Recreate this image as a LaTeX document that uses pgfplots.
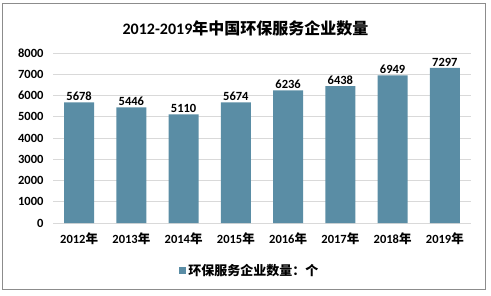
\documentclass[border=0pt]{standalone}
\usepackage{fontspec}
\setmainfont{Carlito}
\newfontfamily\cjk{Noto Sans CJK SC}
\usepackage{pgfplots}
\pgfplotsset{compat=1.18}
\definecolor{barcol}{HTML}{5A8DA5}
\definecolor{gridc}{HTML}{D9D9D9}
\definecolor{framec}{HTML}{8C8C8C}
\newcommand\nian{{\cjk 年}}
\begin{document}
\begin{tikzpicture}[x=1bp,y=1bp]
\useasboundingbox (0,0) rectangle (491,295);
\draw[framec, line width=0.8bp] (2,6) rectangle (485,292);
\node[font=\fontsize{16bp}{19bp}\selectfont\bfseries] at (245.5,267) {2012-2019\cjk 年中国环保服务企业数量};
\begin{axis}[
  at={(53bp,72bp)}, anchor=south west,
  scale only axis, width=418bp, height=170bp,
  xmin=-0.5, xmax=7.5, ymin=0, ymax=8000,
  ytick={0,1000,...,8000},
  xtick=data,
  xticklabels={2012\nian,2013\nian,2014\nian,2015\nian,2016\nian,2017\nian,2018\nian,2019\nian},
  ymajorgrids, grid style={gridc, line width=0.8bp},
  axis line style={draw=none},
  major tick length=0pt,
  tick label style={font=\fontsize{12.5bp}{15bp}\selectfont\bfseries},
  /pgf/number format/assume math mode=true,
  /pgf/number format/1000 sep={},
  yticklabel style={xshift=-6bp},
  xticklabel style={yshift=-6bp},
  nodes near coords,
  nodes near coords style={font=\fontsize{12.5bp}{15bp}\selectfont\bfseries, inner sep=1.5bp},
  legend style={at={(0.471,-0.282)}, anchor=center, draw=none, fill=none,
    font=\fontsize{13bp}{15bp}\selectfont\bfseries\cjk},
  legend image code/.code={\fill[barcol] (0bp,-3.5bp) rectangle (7bp,3.5bp);},
]
\addplot[ybar, bar width=30bp, fill=barcol, draw=none] coordinates {
(0,5678) (1,5446) (2,5110) (3,5674) (4,6236) (5,6438) (6,6949) (7,7297)};
\addlegendentry{环保服务企业数量：个}
\end{axis}
\end{tikzpicture}
\end{document}
